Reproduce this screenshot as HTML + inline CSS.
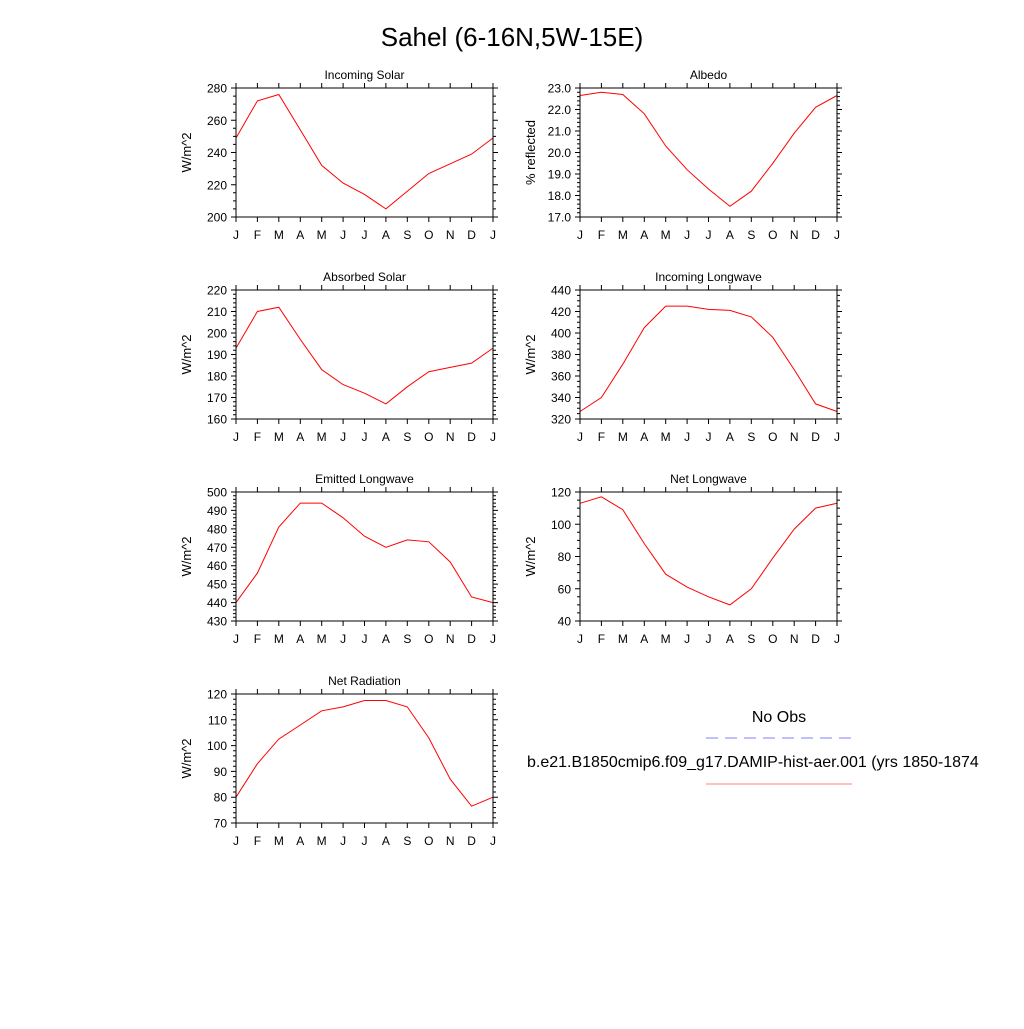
<!DOCTYPE html>
<html><head><meta charset="utf-8">
<style>
body{margin:0;background:#fff;}
svg text{font-family:"Liberation Sans",sans-serif;fill:#000;}
</style></head>
<body>
<svg id="c" width="1024" height="1024" viewBox="0 0 1024 1024" xmlns="http://www.w3.org/2000/svg">
<rect width="1024" height="1024" fill="#fff"/>
<text x="512" y="46" font-size="26" text-anchor="middle">Sahel (6-16N,5W-15E)</text>
<g>
<text x="779" y="722" font-size="16" text-anchor="middle">No Obs</text>
<line x1="706" y1="738" x2="852" y2="738" stroke="#8080ff" stroke-width="1" stroke-dasharray="12,7"/>
<text x="527" y="767" font-size="16">b.e21.B1850cmip6.f09_g17.DAMIP-hist-aer.001 (yrs 1850-1874</text>
<line x1="706" y1="784" x2="852" y2="784" stroke="#ff8080" stroke-width="1"/>
</g>
</svg>
<script>
const months = ["J","F","M","A","M","J","J","A","S","O","N","D","J"];
const incomingSolar = [249,272,276,254,232,221,214,205,216,227,233,239,249];
const albedo = [22.65,22.8,22.7,21.8,20.3,19.2,18.3,17.5,18.2,19.5,20.9,22.1,22.65];
const absorbedSolar = [193,210,212,197,183,176,172,167,175,182,184,186,193];
const incomingLongwave = [327,340,371,405,425,425,422,421,415,396,366,334,327];
const emittedLongwave = [440,456,481,494,494,486,476,470,474,473,462,443,440];
const netLongwave = [113,117,109,88,69,61,55,50,60,79,97,110,113];
const netRadiation = [80,93,102.5,108,113.5,115,117.5,117.5,115,103,87,76.5,80];

const panels = [
 {name:"incoming-solar",title:"Incoming Solar",ylab:"W/m^2",data:incomingSolar,min:200,max:280,step:20,minor:5,dec:0,x:236,y:88},
 {name:"albedo",title:"Albedo",ylab:"% reflected",data:albedo,min:17,max:23,step:1,minor:0.2,dec:1,x:580,y:88},
 {name:"absorbed-solar",title:"Absorbed Solar",ylab:"W/m^2",data:absorbedSolar,min:160,max:220,step:10,minor:2,dec:0,x:236,y:290},
 {name:"incoming-longwave",title:"Incoming Longwave",ylab:"W/m^2",data:incomingLongwave,min:320,max:440,step:20,minor:5,dec:0,x:580,y:290},
 {name:"emitted-longwave",title:"Emitted Longwave",ylab:"W/m^2",data:emittedLongwave,min:430,max:500,step:10,minor:2,dec:0,x:236,y:492},
 {name:"net-longwave",title:"Net Longwave",ylab:"W/m^2",data:netLongwave,min:40,max:120,step:20,minor:5,dec:0,x:580,y:492},
 {name:"net-radiation",title:"Net Radiation",ylab:"W/m^2",data:netRadiation,min:70,max:120,step:10,minor:2,dec:0,x:236,y:694}
];
const W=257,H=129;
const svg=document.getElementById('c');
const NS="http://www.w3.org/2000/svg";
function mk(tag,attrs,parent){const e=document.createElementNS(NS,tag);for(const k in attrs)e.setAttribute(k,attrs[k]);parent.appendChild(e);return e;}
panels.forEach(p=>{
 const g=mk('g',{},svg);
 
 
 const xs=i=>p.x+i*W/12;
 const ys=v=>p.y+H-(v-p.min)/(p.max-p.min)*H;
 const t=mk('text',{x:p.x+W/2,y:p.y-9,'font-size':12,'text-anchor':'middle'},g);t.textContent=p.title;
 
 
 const yl=mk('text',{x:0,y:0,'font-size':13,'text-anchor':'middle',transform:`translate(${p.x-45},${p.y+H/2}) rotate(-90)`},g);yl.textContent=p.ylab;
 
 
 let d='';
 const nm=Math.round((p.max-p.min)/p.minor);
 for(let k=0;k<=nm;k++){const v=p.min+k*p.minor;const y=ys(v).toFixed(1);const maj=Math.abs(((v-p.min)/p.step)-Math.round((v-p.min)/p.step))<1e-6;const L=maj?5:3;
  d+=`M${p.x},${y}h${-L}M${p.x+W},${y}h${L}`;}
 for(let i=0;i<=12;i++){const x=xs(i).toFixed(1);d+=`M${x},${p.y+H}v5M${x},${p.y}v-5`;}
 const tk=mk('path',{d:d,stroke:'#000','stroke-width':1,fill:'none'},g);
 
 
 for(let v=p.min;v<=p.max+1e-9;v+=p.step){const l=mk('text',{x:p.x-9,y:ys(v)+4.5,'font-size':12,'text-anchor':'end'},g);l.textContent=v.toFixed(p.dec);
  
  }
 months.forEach((m,i)=>{const l=mk('text',{x:xs(i),y:p.y+H+22,'font-size':12,'text-anchor':'middle'},g);l.textContent=m;
  
  });
 const line=mk('polyline',{points:p.data.map((v,i)=>xs(i).toFixed(1)+','+ys(v).toFixed(1)).join(' '),fill:'none',stroke:'#ff0000','stroke-width':1},g);
 
 
 const fr=mk('rect',{x:p.x,y:p.y,width:W,height:H,fill:'none',stroke:'#000','stroke-width':1},g);
 
 
});
</script>
</body></html>
